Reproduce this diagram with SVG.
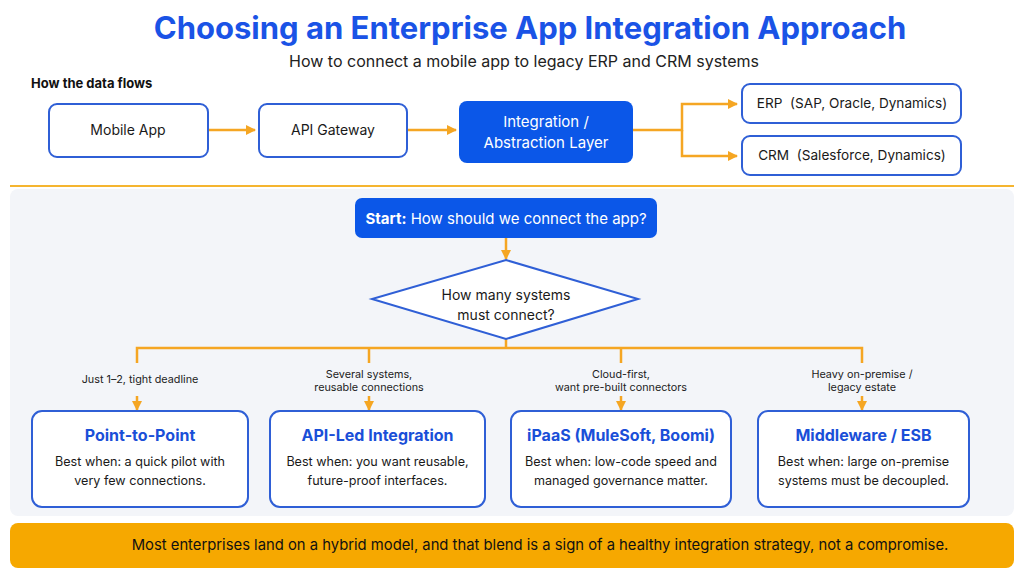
<svg xmlns="http://www.w3.org/2000/svg" width="1024" height="576" viewBox="0 0 1024 576">
<defs>
<marker id="ah" viewBox="0 0 10 10" refX="9" refY="5" markerWidth="10" markerHeight="10" markerUnits="userSpaceOnUse" orient="auto">
<path d="M0,0 L10,5 L0,10 z" fill="#f5a623"/>
</marker>
<style>
.t{font-family:Inter,"Liberation Sans",sans-serif}
.box{fill:#fff;stroke:#2f5fd6;stroke-width:2}
.blue{fill:#0b57e8}
.lbl{font-family:Inter,"Liberation Sans",sans-serif;font-size:14px;fill:#1a1a1a;text-anchor:middle}
.small{font-family:Inter,"Liberation Sans",sans-serif;font-size:10.8px;fill:#222;text-anchor:middle}
.ct{font-family:Inter,"Liberation Sans",sans-serif;font-size:16px;font-weight:700;fill:#1a4fd8;text-anchor:middle}
.cb{font-family:Inter,"Liberation Sans",sans-serif;font-size:12.6px;fill:#1a1a1a;text-anchor:middle}
.con{fill:none;stroke:#f5a623;stroke-width:2.5}
</style>
</defs>
<rect width="1024" height="576" fill="#fff"/>
<text x="530" y="39" class="t" font-size="31" font-weight="700" fill="#1a53e6" text-anchor="middle">Choosing an Enterprise App Integration Approach</text>
<text x="524" y="67" class="t" font-size="16" fill="#222" text-anchor="middle">How to connect a mobile app to legacy ERP and CRM systems</text>
<text x="31" y="88" class="t" font-size="13" font-weight="700" fill="#111">How the data flows</text>
<rect x="10" y="189" width="1004" height="327" rx="8" fill="#f3f5f9"/>
<line x1="10" y1="186" x2="1014" y2="186" stroke="#f5b530" stroke-width="2"/>
<g id="connectors">
<line class="con" x1="208" y1="130" x2="255" y2="130" marker-end="url(#ah)"/>
<line class="con" x1="408" y1="130" x2="456" y2="130" marker-end="url(#ah)"/>
<path class="con" d="M633,130 H682 V104 H737" marker-end="url(#ah)"/>
<path class="con" d="M682,130 V156 H737" marker-end="url(#ah)"/>
<line class="con" x1="506" y1="238" x2="506" y2="259" marker-end="url(#ah)"/>
<path class="con" d="M506,339 V348 M137,363 V348 H862 V363 M369,348 V363 M621,348 V363"/>
<line class="con" x1="137" y1="396" x2="137" y2="410" marker-end="url(#ah)"/>
<line class="con" x1="369" y1="396" x2="369" y2="410" marker-end="url(#ah)"/>
<line class="con" x1="621" y1="396" x2="621" y2="410" marker-end="url(#ah)"/>
<line class="con" x1="862" y1="396" x2="862" y2="410" marker-end="url(#ah)"/>
<text x="140" y="383" class="small">Just 1–2, tight deadline</text>
<text x="369" y="378" class="small">Several systems,</text>
<text x="369" y="391" class="small">reusable connections</text>
<text x="621" y="378" class="small">Cloud-first,</text>
<text x="621" y="391" class="small">want pre-built connectors</text>
<text x="862" y="378" class="small">Heavy on-premise /</text>
<text x="862" y="391" class="small">legacy estate</text>
</g>
<g id="mobile"><rect class="box" x="49" y="104" width="159" height="53" rx="8"/><text x="128" y="135" class="lbl">Mobile App</text></g>
<g id="gateway"><rect class="box" x="259" y="104" width="148" height="53" rx="8"/><text x="333" y="135" class="lbl">API Gateway</text></g>
<g id="layer"><rect class="blue" x="459" y="101" width="174" height="62" rx="8"/><text x="546" y="127" class="lbl" style="fill:#fff;font-size:15px">Integration /</text><text x="546" y="148" class="lbl" style="fill:#fff;font-size:15px">Abstraction Layer</text></g>
<g id="erp"><rect class="box" x="742" y="84" width="219" height="39" rx="8"/><text x="852" y="108" class="lbl" style="font-size:13.6px;white-space:pre" xml:space="preserve">ERP  (SAP, Oracle, Dynamics)</text></g>
<g id="crm"><rect class="box" x="742" y="136" width="219" height="39" rx="8"/><text x="852" y="160" class="lbl" style="font-size:13.6px;white-space:pre" xml:space="preserve">CRM  (Salesforce, Dynamics)</text></g>
<g id="start"><rect class="blue" x="355" y="198" width="302" height="40" rx="7"/><text x="506" y="224" class="lbl" style="fill:#fff;font-size:15px"><tspan font-weight="700">Start:</tspan> How should we connect the app?</text></g>
<g id="decision"><polygon points="506,260 638,299 506,339 372,299" fill="#fff" stroke="#2f5fd6" stroke-width="2"/><text x="506" y="300" class="lbl">How many systems</text><text x="506" y="320" class="lbl">must connect?</text></g>
<g id="p2p"><rect class="box" x="32" y="411" width="216" height="96" rx="10"/><text x="140" y="441" class="ct">Point-to-Point</text><text x="140" y="466" class="cb">Best when: a quick pilot with</text><text x="140" y="485" class="cb">very few connections.</text></g>
<g id="apiled"><rect class="box" x="270" y="411" width="215" height="96" rx="10"/><text x="377.5" y="441" class="ct">API-Led Integration</text><text x="377.5" y="466" class="cb">Best when: you want reusable,</text><text x="377.5" y="485" class="cb">future-proof interfaces.</text></g>
<g id="ipaas"><rect class="box" x="511" y="411" width="220" height="96" rx="10"/><text x="621" y="441" class="ct">iPaaS (MuleSoft, Boomi)</text><text x="621" y="466" class="cb">Best when: low-code speed and</text><text x="621" y="485" class="cb">managed governance matter.</text></g>
<g id="esb"><rect class="box" x="758" y="411" width="211" height="96" rx="10"/><text x="863.5" y="441" class="ct">Middleware / ESB</text><text x="863.5" y="466" class="cb">Best when: large on-premise</text><text x="863.5" y="485" class="cb">systems must be decoupled.</text></g>
<g id="banner"><rect x="10" y="523" width="1004" height="45" rx="8" fill="#f6a800"/><text x="540" y="550" class="t" font-size="14.8" fill="#111" text-anchor="middle">Most enterprises land on a hybrid model, and that blend is a sign of a healthy integration strategy, not a compromise.</text></g>
</svg>
